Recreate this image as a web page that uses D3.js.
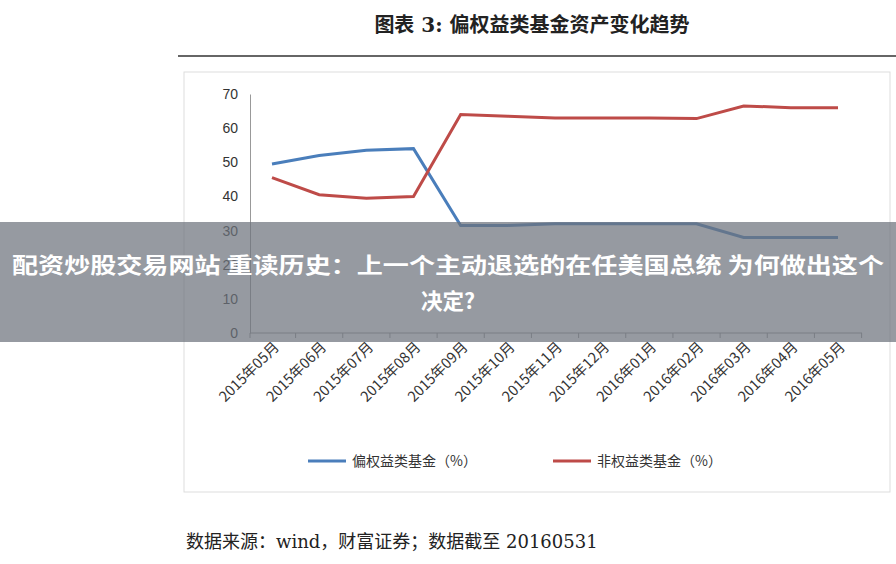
<!DOCTYPE html>
<html><head><meta charset="utf-8">
<script src="https://cdn.jsdelivr.net/npm/d3@7"></script>
<style>body{margin:0;background:#fff;}svg{display:block;}</style>
</head><body>
<script>
var categories = ["2015年05月","2015年06月","2015年07月","2015年08月","2015年09月","2015年10月","2015年11月","2015年12月","2016年01月","2016年02月","2016年03月","2016年04月","2016年05月"];
var bondFund = [49.5,52,53.5,54,31.5,31.5,32,32,32,32,28,28,28];
var nonBondFund = [45.5,40.5,39.5,40,64,63.5,63,63,63,62.8,66.5,66,66];
var yTicks = [0,10,20,30,40,50,60,70];

var svg = d3.select("body").append("svg").attr("width",896).attr("height",564);
var serif = "'DejaVu Serif', 'Noto Sans CJK SC', serif";

svg.append("text").attr("x",532).attr("y",32).attr("text-anchor","middle")
  .attr("font-family",serif).attr("font-size",20).attr("font-weight","bold").attr("fill","#222")
  .text("图表 3:  偏权益类基金资产变化趋势");
svg.append("line").attr("x1",178).attr("x2",896).attr("y1",56).attr("y2",56).attr("stroke","#333").attr("stroke-width",1.5);

svg.append("rect").attr("x",184).attr("y",72).attr("width",706).attr("height",420)
  .attr("fill","#fff").attr("stroke","#ddd");

var x = d3.scalePoint().domain(categories).range([272,838]);
var y = d3.scaleLinear().domain([0,70]).range([333,94]);

var g = svg.append("g");
g.append("g").attr("transform","translate(250,0)")
  .call(d3.axisLeft(y).tickValues(yTicks).tickSize(0).tickPadding(12))
  .call(function(a){a.select(".domain").attr("stroke","#999");
    a.selectAll("text").attr("font-size",14).attr("fill","#333").attr("font-family","Liberation Sans, sans-serif");});
g.append("line").attr("x1",250).attr("x2",862).attr("y1",333).attr("y2",333).attr("stroke","#999");
categories.forEach(function(c){
  var px = x(c)+23.6;
  g.append("line").attr("x1",px).attr("x2",px).attr("y1",333).attr("y2",338).attr("stroke","#999");
});
g.append("line").attr("x1",250).attr("x2",250).attr("y1",333).attr("y2",338).attr("stroke","#999");

categories.forEach(function(c){
  g.append("text").attr("transform","translate("+(x(c)+8)+",348) rotate(-45)")
    .attr("text-anchor","end").attr("font-size",14.5)
    .attr("font-family","'Noto Sans CJK SC', sans-serif").attr("fill","#333").text(c);
});

var line = d3.line().x(function(d,i){return x(categories[i]);}).y(function(d){return y(d);});
g.append("path").attr("d",line(bondFund)).attr("fill","none").attr("stroke","#4a7ebb").attr("stroke-width",3);
g.append("path").attr("d",line(nonBondFund)).attr("fill","none").attr("stroke","#be4b48").attr("stroke-width",3);

var legend = [["偏权益类基金（%）","#4a7ebb",308],["非权益类基金（%）","#be4b48",553]];
legend.forEach(function(l){
  svg.append("line").attr("x1",l[2]).attr("x2",l[2]+38).attr("y1",461).attr("y2",461).attr("stroke",l[1]).attr("stroke-width",3);
  svg.append("text").attr("x",l[2]+44).attr("y",466).attr("font-size",14).attr("font-family","'Noto Sans CJK SC', sans-serif").attr("fill","#333").text(l[0]);
});

svg.append("text").attr("x",186).attr("y",548).attr("font-family",serif).attr("font-size",18).attr("fill","#222")
  .text("数据来源：wind，财富证券；数据截至 20160531");

// overlay banner
svg.append("rect").attr("x",0).attr("y",222).attr("width",896).attr("height",120).attr("fill","rgba(110,115,125,0.72)");
svg.append("text").attr("x",448).attr("y",273).attr("text-anchor","middle").attr("font-size",21.5).attr("font-weight","bold")
  .attr("textLength",872).attr("lengthAdjust","spacingAndGlyphs")
  .attr("font-family","'Noto Sans CJK SC', sans-serif").attr("fill","#fff").text("配资炒股交易网站 重读历史：上一个主动退选的在任美国总统 为何做出这个");
svg.append("text").attr("x",448).attr("y",309).attr("text-anchor","middle").attr("font-size",21.5).attr("font-weight","bold")
  .attr("font-family","'Noto Sans CJK SC', sans-serif").attr("fill","#fff").text("决定?");
</script>
</body></html>
